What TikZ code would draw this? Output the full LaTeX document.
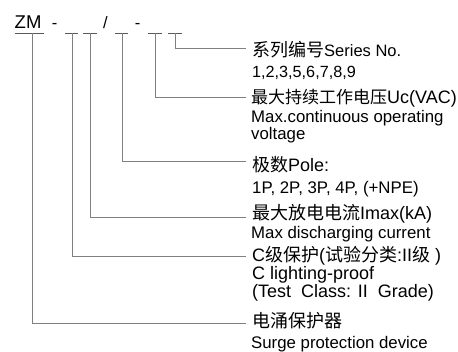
\documentclass[tikz,border=0pt]{standalone}
\usepackage{fontspec}
\setmainfont{Liberation Sans}
\newfontfamily\cjkfont{Noto Sans CJK SC}
\newcommand{\zh}[1]{{\cjkfont #1}}
\begin{document}
\begin{tikzpicture}[x=1pt,y=-1pt,
  slot/.style={draw=black!65, line width=0.8pt},
  lead/.style={draw=black!50, line width=0.8pt},
  codetext/.style={anchor=base, inner sep=0pt, font=\fontsize{16.5}{16.5}\selectfont},
  headtext/.style={anchor=base west, inner sep=0pt, font=\fontsize{18}{18}\selectfont},
  desctext/.style={anchor=base west, inner sep=0pt, align=left, font=\fontsize{16.8}{14}\selectfont}]
\useasboundingbox (0,0) rectangle (458,351);
% type code
\node[codetext, anchor=base west, font=\fontsize{18.5}{18.5}\selectfont] (zm) at (14.5,28.5) {ZM};
\node[codetext] (dashA) at (54.5,28) {-};
\node[codetext] (slash) at (105.5,28) {/};
\node[codetext] (dashB) at (137.5,28) {-};
\foreach \a/\b in {15/44, 65/78, 83/97, 115/128, 148/162, 168/182}
  \draw[slot] (\a,33) -- (\b,33);
\coordinate (tapZM) at (32,33);
\coordinate (tapProt) at (72,33);
\coordinate (tapImax) at (90,33);
\coordinate (tapPole) at (122,33);
\coordinate (tapUc) at (155,33);
\coordinate (tapSer) at (175,33);
% line ends
\coordinate (endSer) at (246,48);
\coordinate (endUc) at (246,97.5);
\coordinate (endPole) at (246,161);
\coordinate (endImax) at (246,217.5);
\coordinate (endProt) at (246,256);
\coordinate (endZM) at (246,323);
% headings and notes
\node[headtext] (hSer) at (252,56) {\zh{系列编号}{\fontsize{16.5}{16.5}\selectfont Series No.}};
\node[desctext, font=\fontsize{16.2}{14}\selectfont] (dSer) at (252,77) {1,2,3,5,6,7,8,9};
\node[headtext] (hUc) at (251,103) {{\fontsize{17}{17}\selectfont\zh{最大持续工作电压}}Uc(VAC)};
\node[desctext] (dUc) at (251,139) {Max.continuous operating\\voltage};
\node[headtext] (hPole) at (252,171) {\zh{极数}Pole:};
\node[desctext] (dPole) at (252,193) {1P, 2P, 3P, 4P, (+NPE)};
\node[headtext] (hImax) at (252,219) {\zh{最大放电电流}Imax(kA)};
\node[desctext] (dImax) at (251,238) {Max discharging current};
\node[headtext] (hProt) at (252,261) {C\zh{级保护}(\zh{试验分类}:II\zh{级} )};
\node[desctext, font=\fontsize{18}{14}\selectfont] (dProt) at (252,297) {C lighting-proof\\(Test~ Class: II~ Grade)};
\node[headtext] (hZM) at (252,327) {\zh{电涌保护器}};
\node[desctext] (dZM) at (251,348) {Surge protection device};
% leaders
\draw[lead] (tapSer) |- (endSer);
\draw[lead] (tapUc) |- (endUc);
\draw[lead] (tapPole) |- (endPole);
\draw[lead] (tapImax) |- (endImax);
\draw[lead] (tapProt) |- (endProt);
\draw[lead] (tapZM) |- (endZM);
\end{tikzpicture}
\end{document}
